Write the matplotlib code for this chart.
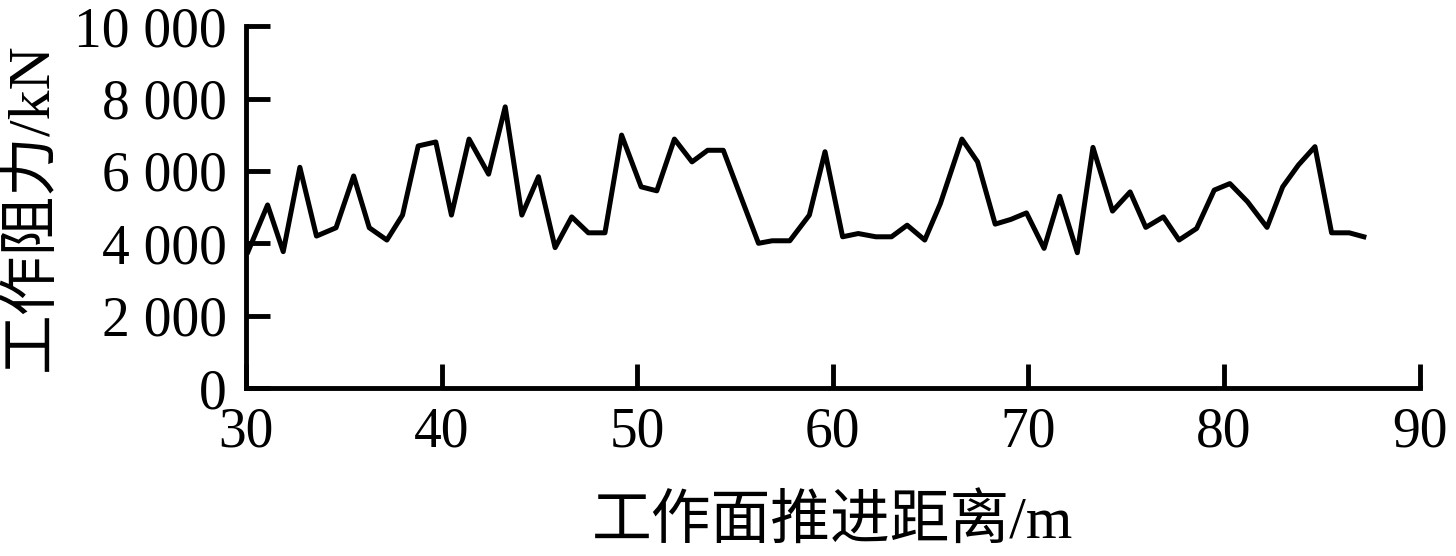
import matplotlib.pyplot as plt
import numpy as np

# 工作面推进距离 (m) 与 工作阻力 (kN)
distance = [30.1, 31.1, 31.9, 32.75, 33.6, 34.6, 35.5, 36.3, 37.2, 38.0,
            38.8, 39.7, 40.5, 41.4, 42.4, 43.25, 44.1, 44.95, 45.8, 46.65,
            47.5, 48.35, 49.2, 50.2, 51.0, 51.9, 52.8, 53.6, 54.4, 55.3,
            56.2, 56.9, 57.8, 58.8, 59.6, 60.5, 61.3, 62.2, 63.0, 63.8,
            64.7, 65.5, 66.6, 67.4, 68.3, 69.1, 69.9, 70.8, 71.6, 72.5,
            73.3, 74.3, 75.2, 76.0, 76.9, 77.7, 78.6, 79.5, 80.3, 81.2,
            82.2, 83.0, 83.8, 84.65, 85.5, 86.4, 87.15]
resistance = [3770, 5060, 3770, 6100, 4200, 4430, 5860, 4430, 4090, 4780,
              6690, 6800, 4780, 6880, 5910, 7770, 4780, 5840, 3880, 4730,
              4290, 4290, 6990, 5560, 5450, 6880, 6250, 6570, 6570, 5280,
              4000, 4070, 4070, 4780, 6530, 4180, 4270, 4180, 4180, 4500,
              4090, 5100, 6880, 6250, 4530, 4660, 4840, 3860, 5300, 3740,
              6650, 4890, 5420, 4440, 4730, 4090, 4410, 5470, 5650, 5150,
              4440, 5560, 6160, 6670, 4290, 4290, 4180]

x_ticks = [30, 40, 50, 60, 70, 80, 90]
y_ticks = [0, 2000, 4000, 6000, 8000, 10000]
y_tick_labels = ['0', '2 000', '4 000', '6 000', '8 000', '10 000']

fonts = ['Liberation Serif', 'Noto Sans CJK SC', 'DejaVu Sans']
plt.rcParams['font.family'] = fonts

fig = plt.figure(figsize=(14.56, 5.56), dpi=100)
ax = fig.add_axes([0.169, 0.302, 0.806, 0.651])

ax.plot(distance, resistance, color='black', linewidth=3.6)

ax.set_xlim(30, 90)
ax.set_ylim(0, 10000)
ax.set_xticks(x_ticks)
ax.set_yticks(y_ticks)
ax.set_yticklabels(y_tick_labels)

# nur linke und untere Achse
for side in ['top', 'right']:
    ax.spines[side].set_visible(False)
for side in ['left', 'bottom']:
    ax.spines[side].set_linewidth(3.5)

ax.tick_params(axis='both', direction='in', length=17, width=3.5, labelsize=40)
ax.tick_params(axis='y', pad=14)
ax.tick_params(axis='x', pad=13)

ax.set_xlabel('工作面推进距离/m', fontsize=43, labelpad=27)
ax.set_ylabel('工作阻力/kN', fontsize=43, labelpad=10)

fig.savefig('out.png')
